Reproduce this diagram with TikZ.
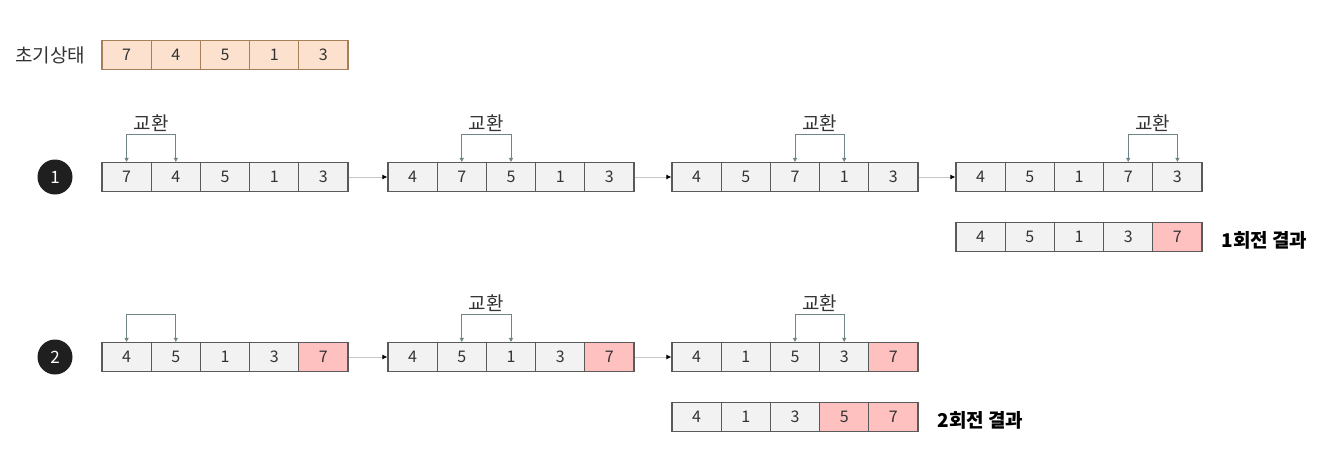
\documentclass[tikz,border=0pt]{standalone}
\usepackage{fontspec}
\setmainfont{Noto Sans CJK KR}
\usetikzlibrary{arrows.meta, positioning, calc}
\definecolor{peach}{RGB}{252,226,206}
\definecolor{cellgray}{RGB}{242,242,242}
\definecolor{pink}{RGB}{255,192,192}
\definecolor{edge}{RGB}{90,90,90}
\definecolor{swapcol}{RGB}{112,134,134}

\begin{document}
\begin{tikzpicture}[x=1pt, y=-1pt,
    cell/.style={draw=edge, fill=cellgray, line width=1.1pt, minimum width=49.2pt, minimum height=29pt, inner sep=0pt, font=\fontsize{16}{18}\selectfont, text=black!80},
    first/.style={cell, fill=peach, draw=brown!60!gray},
    done/.style={cell, fill=pink},
    swapline/.style={draw=swapcol, line width=0.9pt, {Triangle[length=4pt,width=4pt]}-{Triangle[length=4pt,width=4pt]}},
    swaptxt/.style={font=\fontsize{19}{21}\selectfont, text=black!80, inner sep=2pt},
    flow/.style={draw=gray!45, line width=1pt, -{Latex[black,length=5pt,width=5pt]}},
    round/.style={circle, fill=black!88, text=white, minimum size=35pt, inner sep=0pt, font=\fontsize{17}{18}\selectfont},
    result/.style={font=\bfseries\fontsize{19}{21}\selectfont, anchor=west}]
    \useasboundingbox (0,0) rectangle (1342,461);

    % 초기 상태
    \node[font=\fontsize{19}{21}\selectfont, text=black!80] (start) at (50,55) {초기상태};
    \node[first] (i1) at (126.6,55) {7};
    \node[first] (i2) at (175.8,55) {4};
    \node[first] (i3) at (225.0,55) {5};
    \node[first] (i4) at (274.2,55) {1};
    \node[first] (i5) at (323.4,55) {3};

    % 1회전
    \node[round] (n1) at (55,177) {1};
    % 첫 번째 배열
    \node[cell] (a1) at (126.6,177) {7};
    \node[cell] (a2) at (175.8,177) {4};
    \node[cell] (a3) at (225.0,177) {5};
    \node[cell] (a4) at (274.2,177) {1};
    \node[cell] (a5) at (323.4,177) {3};
    \draw[swapline] (a1.north) -- ++(0,-28) -| node[swaptxt, pos=0.25, above] (ta) {교환} (a2.north);
    % 두 번째 배열
    \node[cell] (b1) at (412.6,177) {4};
    \node[cell] (b2) at (461.8,177) {7};
    \node[cell] (b3) at (511.0,177) {5};
    \node[cell] (b4) at (560.2,177) {1};
    \node[cell] (b5) at (609.4,177) {3};
    \draw[swapline] (b2.north) -- ++(0,-28) -| node[swaptxt, pos=0.25, above] (tb) {교환} (b3.north);
    % 세 번째 배열
    \node[cell] (c1) at (696.6,177) {4};
    \node[cell] (c2) at (745.8,177) {5};
    \node[cell] (c3) at (795.0,177) {7};
    \node[cell] (c4) at (844.2,177) {1};
    \node[cell] (c5) at (893.4,177) {3};
    \draw[swapline] (c3.north) -- ++(0,-28) -| node[swaptxt, pos=0.25, above] (tc) {교환} (c4.north);
    % 네 번째 배열
    \node[cell] (d1) at (980.6,177) {4};
    \node[cell] (d2) at (1029.8,177) {5};
    \node[cell] (d3) at (1079.0,177) {1};
    \node[cell] (d4) at (1128.2,177) {7};
    \node[cell] (d5) at (1177.4,177) {3};
    \draw[swapline] (d4.north) -- ++(0,-28) -| node[swaptxt, pos=0.25, above] (td) {교환} (d5.north);
    \draw[flow] (a5) -- (b1);
    \draw[flow] (b5) -- (c1);
    \draw[flow] (c5) -- (d1);
    % 1회전 결과
    \node[cell] (e1) at (980.6,237) {4};
    \node[cell] (e2) at (1029.8,237) {5};
    \node[cell] (e3) at (1079.0,237) {1};
    \node[cell] (e4) at (1128.2,237) {3};
    \node[done] (e5) at (1177.4,237) {7};
    \node[result] (res1) at (1218,240) {1회전 결과};

    % 2회전
    \node[round] (n2) at (55,357) {2};
    % 첫 번째 배열
    \node[cell] (f1) at (126.6,357) {4};
    \node[cell] (f2) at (175.8,357) {5};
    \node[cell] (f3) at (225.0,357) {1};
    \node[cell] (f4) at (274.2,357) {3};
    \node[done] (f5) at (323.4,357) {7};
    \draw[swapline] (f1.north) -- ++(0,-28) -| (f2.north);
    % 두 번째 배열
    \node[cell] (g1) at (412.6,357) {4};
    \node[cell] (g2) at (461.8,357) {5};
    \node[cell] (g3) at (511.0,357) {1};
    \node[cell] (g4) at (560.2,357) {3};
    \node[done] (g5) at (609.4,357) {7};
    \draw[swapline] (g2.north) -- ++(0,-28) -| node[swaptxt, pos=0.25, above] (tg) {교환} (g3.north);
    % 세 번째 배열
    \node[cell] (h1) at (696.6,357) {4};
    \node[cell] (h2) at (745.8,357) {1};
    \node[cell] (h3) at (795.0,357) {5};
    \node[cell] (h4) at (844.2,357) {3};
    \node[done] (h5) at (893.4,357) {7};
    \draw[swapline] (h3.north) -- ++(0,-28) -| node[swaptxt, pos=0.25, above] (th) {교환} (h4.north);
    \draw[flow] (f5) -- (g1);
    \draw[flow] (g5) -- (h1);
    % 2회전 결과
    \node[cell] (k1) at (696.6,417) {4};
    \node[cell] (k2) at (745.8,417) {1};
    \node[cell] (k3) at (795.0,417) {3};
    \node[done] (k4) at (844.2,417) {5};
    \node[done] (k5) at (893.4,417) {7};
    \node[result] (res2) at (934,420) {2회전 결과};
\end{tikzpicture}
\end{document}
